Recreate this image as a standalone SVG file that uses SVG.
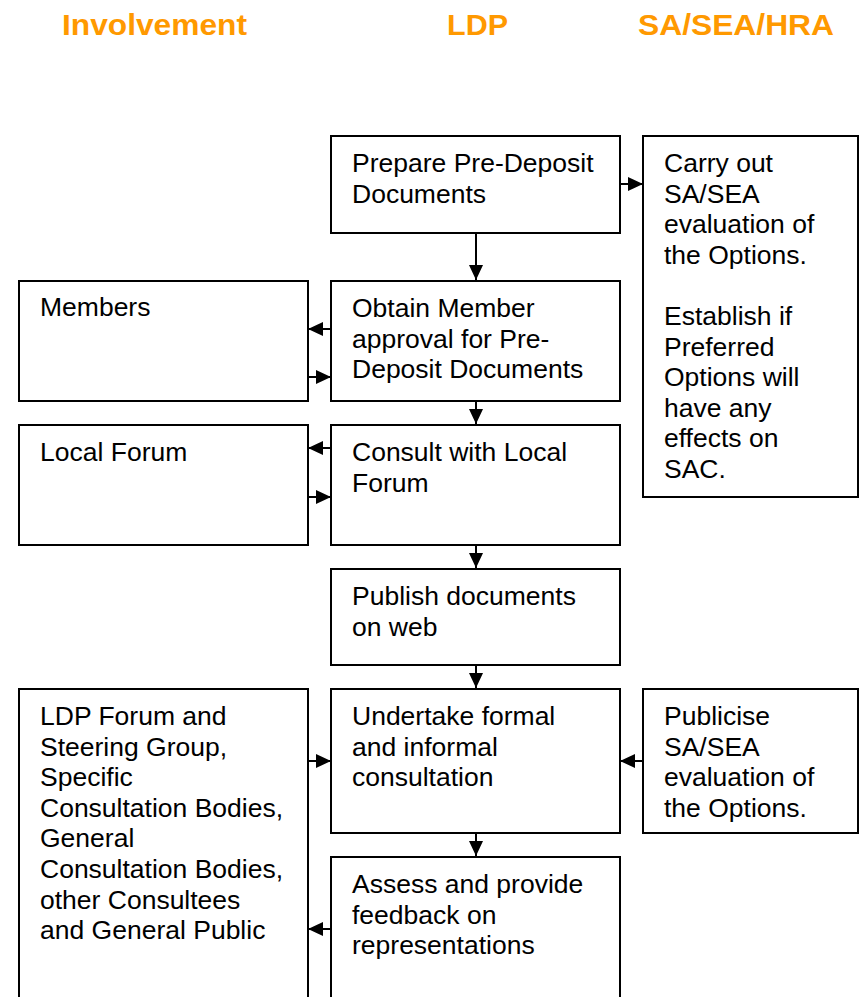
<svg xmlns="http://www.w3.org/2000/svg" width="859" height="997" viewBox="0 0 859 997">
  <style>
    .hdr { font-family: "Liberation Sans", Arial, sans-serif; font-weight: bold; font-size: 30px; fill: #FF9900; }
    .box { fill: #FFFFFF; stroke: #000000; stroke-width: 2; }
    .txt { font-family: "Liberation Sans", Arial, sans-serif; font-size: 26.5px; fill: #000000; }
    .conn { stroke: #000000; stroke-width: 2; fill: none; marker-end: url(#arrow); }
  </style>
  <defs>
    <marker id="arrow" markerUnits="userSpaceOnUse" markerWidth="15" markerHeight="14" refX="15" refY="7" orient="auto">
      <path d="M0,0 L15,7 L0,14 Z" fill="#000000"/>
    </marker>
  </defs>
  <rect width="859" height="997" fill="#FFFFFF"/>

  <!-- column headings -->
  <g id="headings">
    <text class="hdr" x="62" y="35" textLength="185" lengthAdjust="spacingAndGlyphs">Involvement</text>
    <text class="hdr" x="447" y="35" textLength="61" lengthAdjust="spacingAndGlyphs">LDP</text>
    <text class="hdr" x="638" y="35" textLength="196" lengthAdjust="spacingAndGlyphs">SA/SEA/HRA</text>
  </g>

  <!-- connectors -->
  <g id="connectors">
    <path class="conn" d="M620,184 H643"/>
    <path class="conn" d="M476,233 V280"/>
    <path class="conn" d="M331,329 H308"/>
    <path class="conn" d="M308,377 H331"/>
    <path class="conn" d="M476,401 V424"/>
    <path class="conn" d="M331,448 H308"/>
    <path class="conn" d="M308,497 H331"/>
    <path class="conn" d="M476,545 V568"/>
    <path class="conn" d="M476,665 V688"/>
    <path class="conn" d="M308,761 H331"/>
    <path class="conn" d="M643,761 H620"/>
    <path class="conn" d="M476,833 V856"/>
    <path class="conn" d="M331,929 H308"/>
  </g>

  <!-- LDP column -->
  <g id="prepare">
    <rect class="box" x="331" y="136" width="289" height="97"/>
    <text class="txt" x="352" y="172">Prepare Pre-Deposit</text>
    <text class="txt" x="352" y="203">Documents</text>
  </g>
  <g id="obtain">
    <rect class="box" x="331" y="281" width="289" height="120"/>
    <text class="txt" x="352" y="317">Obtain Member</text>
    <text class="txt" x="352" y="348">approval for Pre-</text>
    <text class="txt" x="352" y="378">Deposit Documents</text>
  </g>
  <g id="consult">
    <rect class="box" x="331" y="425" width="289" height="120"/>
    <text class="txt" x="352" y="461">Consult with Local</text>
    <text class="txt" x="352" y="492">Forum</text>
  </g>
  <g id="publish">
    <rect class="box" x="331" y="569" width="289" height="96"/>
    <text class="txt" x="352" y="605">Publish documents</text>
    <text class="txt" x="352" y="636">on web</text>
  </g>
  <g id="undertake">
    <rect class="box" x="331" y="689" width="289" height="144"/>
    <text class="txt" x="352" y="725">Undertake formal</text>
    <text class="txt" x="352" y="756">and informal</text>
    <text class="txt" x="352" y="786">consultation</text>
  </g>
  <g id="assess">
    <rect class="box" x="331" y="857" width="289" height="160"/>
    <text class="txt" x="352" y="893">Assess and provide</text>
    <text class="txt" x="352" y="924">feedback on</text>
    <text class="txt" x="352" y="954">representations</text>
  </g>

  <!-- Involvement column -->
  <g id="members">
    <rect class="box" x="19" y="281" width="289" height="120"/>
    <text class="txt" x="40" y="316">Members</text>
  </g>
  <g id="local-forum">
    <rect class="box" x="19" y="425" width="289" height="120"/>
    <text class="txt" x="40" y="461">Local Forum</text>
  </g>
  <g id="consultees">
    <rect class="box" x="19" y="689" width="289" height="330"/>
    <text class="txt" x="40" y="725">LDP Forum and</text>
    <text class="txt" x="40" y="756">Steering Group,</text>
    <text class="txt" x="40" y="786">Specific</text>
    <text class="txt" x="40" y="817">Consultation Bodies,</text>
    <text class="txt" x="40" y="847">General</text>
    <text class="txt" x="40" y="878">Consultation Bodies,</text>
    <text class="txt" x="40" y="909">other Consultees</text>
    <text class="txt" x="40" y="939">and General Public</text>
  </g>

  <!-- SA/SEA/HRA column -->
  <g id="evaluate">
    <rect class="box" x="643" y="136" width="215" height="361"/>
    <text class="txt" x="664" y="172">Carry out</text>
    <text class="txt" x="664" y="203">SA/SEA</text>
    <text class="txt" x="664" y="233">evaluation of</text>
    <text class="txt" x="664" y="264">the Options.</text>
    <text class="txt" x="664" y="325">Establish if</text>
    <text class="txt" x="664" y="356">Preferred</text>
    <text class="txt" x="664" y="386">Options will</text>
    <text class="txt" x="664" y="417">have any</text>
    <text class="txt" x="664" y="447">effects on</text>
    <text class="txt" x="664" y="478">SAC.</text>
  </g>
  <g id="publicise">
    <rect class="box" x="643" y="689" width="215" height="144"/>
    <text class="txt" x="664" y="725">Publicise</text>
    <text class="txt" x="664" y="756">SA/SEA</text>
    <text class="txt" x="664" y="786">evaluation of</text>
    <text class="txt" x="664" y="817">the Options.</text>
  </g>
</svg>
